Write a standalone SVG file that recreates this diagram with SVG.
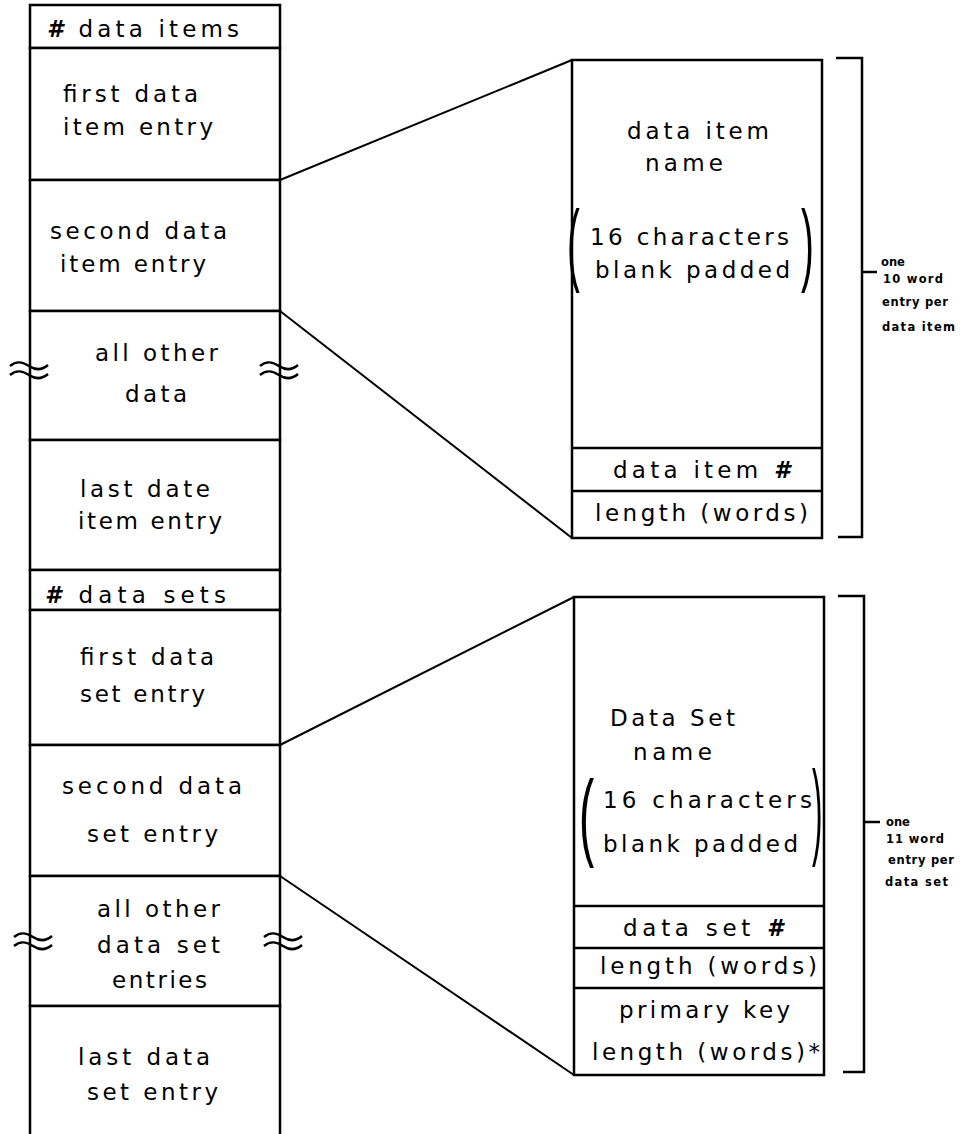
<svg xmlns="http://www.w3.org/2000/svg" width="963" height="1134" viewBox="0 0 963 1134">
<style>
  .cell { fill: #fff; stroke: #000; stroke-width: 2.5; }
  .ln { fill: none; stroke: #000; stroke-width: 2.5; }
  .conn { fill: none; stroke: #000; stroke-width: 2; }
  .t { font-family: "DejaVu Sans", "Liberation Sans", sans-serif; font-size: 23px; fill: #000; }
  .s { font-family: "DejaVu Sans", "Liberation Sans", sans-serif; font-size: 11.5px; font-weight: bold; fill: #000; }
  .p { font-family: "Liberation Sans", "DejaVu Sans", sans-serif; font-size: 35px; fill: #000; }
  .sq { fill: none; stroke: #000; stroke-width: 2.5; }
  .h { font-weight: bold; font-style: italic; }
</style>
<rect width="963" height="1134" fill="#fff"/>

<!-- Left column cells -->
<g id="n-num-items">
  <rect class="cell" x="30" y="5" width="250" height="43"/>
  <text class="t" x="47" y="37" textLength="192" lengthAdjust="spacing"><tspan class="h">#</tspan> data items</text>
</g>
<g id="n-first-item">
  <rect class="cell" x="30" y="48" width="250" height="132"/>
  <text class="t" x="63" y="102" textLength="135" lengthAdjust="spacing">first data</text>
  <text class="t" x="63" y="135" textLength="150" lengthAdjust="spacing">item entry</text>
</g>
<g id="n-second-item">
  <rect class="cell" x="30" y="180" width="250" height="131"/>
  <text class="t" x="50" y="239" textLength="177" lengthAdjust="spacing">second data</text>
  <text class="t" x="60" y="272" textLength="146" lengthAdjust="spacing">item entry</text>
</g>
<g id="n-other-items">
  <rect class="cell" x="30" y="311" width="250" height="129"/>
  <text class="t" x="95" y="361" textLength="123" lengthAdjust="spacing">all other</text>
  <text class="t" x="125" y="402" textLength="62" lengthAdjust="spacing">data</text>
  <path class="sq" d="M10,366 c7,-6 13,-4 19,0 c6,4 12,5 19,-1 M10,375 c7,-6 13,-4 19,0 c6,4 12,5 19,-1"/>
  <path class="sq" d="M260,366 c7,-6 13,-4 19,0 c6,4 12,5 19,-1 M260,375 c7,-6 13,-4 19,0 c6,4 12,5 19,-1"/>
</g>
<g id="n-last-item">
  <rect class="cell" x="30" y="440" width="250" height="130"/>
  <text class="t" x="80" y="497" textLength="130" lengthAdjust="spacing">last date</text>
  <text class="t" x="78" y="529" textLength="144" lengthAdjust="spacing">item entry</text>
</g>
<g id="n-num-sets">
  <rect class="cell" x="30" y="570" width="250" height="40"/>
  <text class="t" x="45" y="603" textLength="181" lengthAdjust="spacing"><tspan class="h">#</tspan> data sets</text>
</g>
<g id="n-first-set">
  <rect class="cell" x="30" y="610" width="250" height="135"/>
  <text class="t" x="80" y="665" textLength="134" lengthAdjust="spacing">first data</text>
  <text class="t" x="80" y="702" textLength="125" lengthAdjust="spacing">set entry</text>
</g>
<g id="n-second-set">
  <rect class="cell" x="30" y="745" width="250" height="131"/>
  <text class="t" x="62" y="794" textLength="180" lengthAdjust="spacing">second data</text>
  <text class="t" x="87" y="842" textLength="131" lengthAdjust="spacing">set entry</text>
</g>
<g id="n-other-sets">
  <rect class="cell" x="30" y="876" width="250" height="130"/>
  <text class="t" x="97" y="917" textLength="123" lengthAdjust="spacing">all other</text>
  <text class="t" x="97" y="953" textLength="123" lengthAdjust="spacing">data set</text>
  <text class="t" x="112" y="988" textLength="95" lengthAdjust="spacing">entries</text>
  <path class="sq" d="M14,937 c7,-6 13,-4 19,0 c6,4 12,5 19,-1 M14,946 c7,-6 13,-4 19,0 c6,4 12,5 19,-1"/>
  <path class="sq" d="M264,937 c7,-6 13,-4 19,0 c6,4 12,5 19,-1 M264,946 c7,-6 13,-4 19,0 c6,4 12,5 19,-1"/>
</g>
<g id="n-last-set">
  <rect class="cell" x="30" y="1006" width="250" height="140"/>
  <text class="t" x="78" y="1065" textLength="132" lengthAdjust="spacing">last data</text>
  <text class="t" x="87" y="1100" textLength="131" lengthAdjust="spacing">set entry</text>
</g>

<!-- Data item entry detail -->
<g id="n-item-detail">
  <rect class="cell" x="572" y="60" width="250" height="478"/>
  <line class="ln" x1="572" y1="448" x2="822" y2="448"/>
  <line class="ln" x1="572" y1="491" x2="822" y2="491"/>
  <text class="t" x="627" y="139" textLength="142" lengthAdjust="spacing">data item</text>
  <text class="t" x="645" y="171" textLength="78" lengthAdjust="spacing">name</text>
  <text class="p" transform="translate(567,274) scale(1.1,2.58)">(</text>
  <text class="t" x="590" y="245" textLength="199" lengthAdjust="spacing">16 characters</text>
  <text class="t" x="595" y="278" textLength="195" lengthAdjust="spacing">blank padded</text>
  <text class="p" transform="translate(801,274) scale(1.1,2.58)">)</text>
  <text class="t" x="613" y="478" textLength="177" lengthAdjust="spacing">data item <tspan class="h">#</tspan></text>
  <text class="t" x="595" y="521" textLength="213" lengthAdjust="spacing">length (words)</text>
</g>

<!-- Data set entry detail -->
<g id="n-set-detail">
  <rect class="cell" x="574" y="597" width="250" height="478"/>
  <line class="ln" x1="574" y1="906" x2="824" y2="906"/>
  <line class="ln" x1="574" y1="948" x2="824" y2="948"/>
  <line class="ln" x1="574" y1="988" x2="824" y2="988"/>
  <text class="t" x="610" y="726" textLength="125" lengthAdjust="spacing">Data Set</text>
  <text class="t" x="633" y="760" textLength="79" lengthAdjust="spacing">name</text>
  <text class="p" transform="translate(579,848) scale(1.3,2.74)">(</text>
  <text class="t" x="603" y="808" textLength="209" lengthAdjust="spacing">16 characters</text>
  <text class="t" x="603" y="852" textLength="195" lengthAdjust="spacing">blank padded</text>
  <text class="p" transform="translate(812,845) scale(0.9,3.04)">)</text>
  <text class="t" x="623" y="936" textLength="160" lengthAdjust="spacing">data set <tspan class="h">#</tspan></text>
  <text class="t" x="600" y="974" textLength="217" lengthAdjust="spacing">length (words)</text>
  <text class="t" x="619" y="1018" textLength="171" lengthAdjust="spacing">primary key</text>
  <text class="t" x="592" y="1060" textLength="228" lengthAdjust="spacing">length (words)*</text>
</g>

<!-- Brackets with annotations -->
<g id="n-bracket-items">
  <path class="ln" d="M836,58 H862 V537 H838 M862,272 H877"/>
  <text class="s" x="881" y="266">one</text>
  <text class="s" x="883" y="283" textLength="60" lengthAdjust="spacing">10 word</text>
  <text class="s" x="882" y="306" textLength="66" lengthAdjust="spacing">entry per</text>
  <text class="s" x="882" y="331" textLength="73" lengthAdjust="spacing">data item</text>
</g>
<g id="n-bracket-sets">
  <path class="ln" d="M838,596 H864 V1072 H843 M864,822 H880"/>
  <text class="s" x="886" y="826">one</text>
  <text class="s" x="886" y="843" textLength="58" lengthAdjust="spacing">11 word</text>
  <text class="s" x="888" y="864" textLength="66" lengthAdjust="spacing">entry per</text>
  <text class="s" x="885" y="886" textLength="63" lengthAdjust="spacing">data set</text>
</g>

<!-- Connectors -->
<g id="connectors">
  <line class="conn" x1="280" y1="180" x2="572" y2="60"/>
  <line class="conn" x1="280" y1="311" x2="572" y2="538"/>
  <line class="conn" x1="280" y1="745" x2="574" y2="597"/>
  <line class="conn" x1="280" y1="876" x2="574" y2="1075"/>
</g>
</svg>
